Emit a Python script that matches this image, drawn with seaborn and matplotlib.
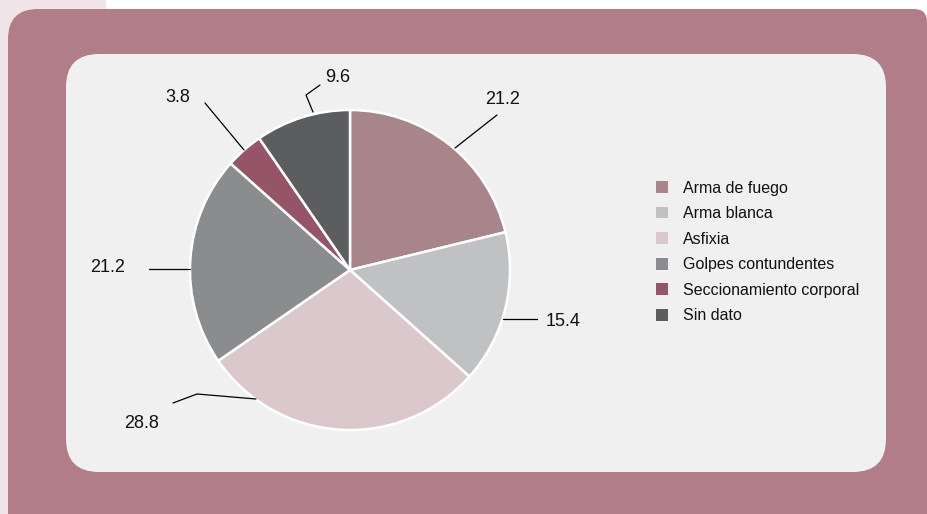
import matplotlib
matplotlib.use("Agg")
import matplotlib.pyplot as plt
import seaborn as sns
from matplotlib.patches import FancyBboxPatch, Rectangle, Patch

# =============================
# DATA
# =============================
categories = ["Arma de fuego", "Arma blanca", "Asfixia",
              "Golpes contundentes", "Seccionamiento corporal", "Sin dato"]
values = [21.2, 15.4, 28.8, 21.2, 3.8, 9.6]
colors = ["#a8848b", "#c0c1c3", "#dac8cc", "#8b8c8e", "#955468", "#5c5d5f"]

# label layout (pixel coords from top-left): text centre and leader line
label_pos = [(503, 99), (563, 321), (142, 423), (108, 268), (178, 97), (338, 78)]
leaders = [
    [(455, 148), (497, 115)],
    [(503, 319), (537, 319)],
    [(256, 399), (197, 394), (173, 403)],
    [(190, 269), (149, 269)],
    [(244, 150), (205, 103)],
    [(313, 112), (306, 95), (320, 85)],
]

W, H = 927, 514

sns.set_theme(style="white")
plt.rcParams["font.family"] = ["Liberation Sans", "DejaVu Sans"]

fig = plt.figure(figsize=(W / 100, H / 100), dpi=100)
fig.patch.set_facecolor("white")
ax = fig.add_axes([0, 0, 1, 1])


def fy(y):
    return H - y


# --------------------------------------
# background panels
# --------------------------------------
ax.add_patch(Rectangle((0, 0), 106, H, facecolor="#f1e4e8", edgecolor="none", zorder=-5))
ax.add_patch(FancyBboxPatch((8, fy(560)), 919, 551,
                            boxstyle="round,pad=0,rounding_size=30",
                            facecolor="#b07d88", edgecolor="none", zorder=-4))
ax.add_patch(FancyBboxPatch((600, fy(560)), 327, 551,
                            boxstyle="round,pad=0,rounding_size=13",
                            facecolor="#b07d88", edgecolor="none", zorder=-4))
ax.add_patch(FancyBboxPatch((66, fy(472)), 820, 418,
                            boxstyle="round,pad=0,rounding_size=33",
                            facecolor="#f0f0f0", edgecolor="none", zorder=-3))

# --------------------------------------
# pie
# --------------------------------------
palette = sns.color_palette(colors)
wedges, _ = ax.pie(values, colors=palette, startangle=90, counterclock=False,
                   center=(350, fy(270)), radius=160,
                   wedgeprops=dict(edgecolor="white", linewidth=1.8))

for v, (tx, ty), pts in zip(values, label_pos, leaders):
    xs = [p[0] for p in pts]
    ys = [fy(p[1]) for p in pts]
    ax.plot(xs, ys, color="black", linewidth=0.9)
    ax.text(tx, fy(ty), f"{v:.1f}", ha="center", va="center",
            fontsize=13, color="#111111")

# --------------------------------------
# legend
# --------------------------------------
handles = [Patch(facecolor=c, edgecolor="none", label=l) for c, l in zip(palette, categories)]
ax.legend(handles=handles, loc="center left", bbox_to_anchor=(656, fy(252)),
          bbox_transform=ax.transData, frameon=False, fontsize=11.5,
          handlelength=0.75, handleheight=0.75, handletextpad=0.95,
          labelspacing=0.66, borderpad=0, borderaxespad=0,
          labelcolor="#111111")

ax.set_xlim(0, W)
ax.set_ylim(0, H)
ax.set_aspect("auto")
ax.axis("off")

fig.savefig("out.png", dpi=100, facecolor=fig.get_facecolor())
